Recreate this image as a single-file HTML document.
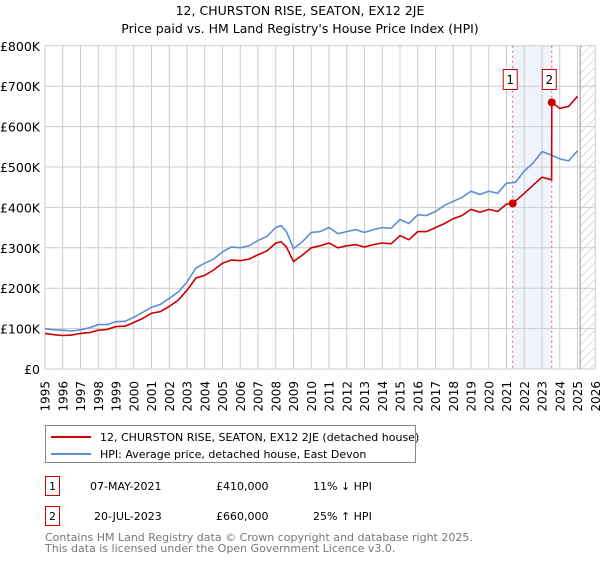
<!DOCTYPE html>
<html><head><meta charset="utf-8"><style>
body{margin:0;background:#fff;width:600px;height:560px;overflow:hidden;font-family:"Liberation Sans","DejaVu Sans",sans-serif}
svg text{font-family:"DejaVu Sans","Liberation Sans",sans-serif}
</style></head><body>
<svg id="chart" width="600" height="560" xmlns="http://www.w3.org/2000/svg">
<defs><pattern id="hatch" width="6" height="6" patternUnits="userSpaceOnUse" patternTransform="rotate(45)"><line x1="0" y1="0" x2="0" y2="6" stroke="#bbb" stroke-width="1"/></pattern></defs>
<text x="300" y="15" text-anchor="middle" font-size="12.5">12, CHURSTON RISE, SEATON, EX12 2JE</text>
<text x="300" y="33" text-anchor="middle" font-size="12.5">Price paid vs. HM Land Registry's House Price Index (HPI)</text>
<g id="grid"></g>
<g id="marks"></g>
<g id="legend">
<rect x="45.5" y="425.5" width="370" height="37" fill="#fff" stroke="#888"/>
<line x1="51" y1="437" x2="91" y2="437" stroke="#cc0000" stroke-width="2"/>
<text x="100" y="441" font-size="11">12, CHURSTON RISE, SEATON, EX12 2JE (detached house)</text>
<line x1="51" y1="454" x2="91" y2="454" stroke="#5f8fd0" stroke-width="2"/>
<text x="100" y="458" font-size="11">HPI: Average price, detached house, East Devon</text>
</g>
<g font-size="11">
<rect x="45.5" y="476.5" width="14" height="19" fill="#fff" stroke="#cc0000"/>
<text x="52.5" y="490" text-anchor="middle">1</text>
<text x="90" y="490">07-MAY-2021</text><text x="216" y="490">£410,000</text><text x="313" y="490">11% ↓ HPI</text>
</g>
<g font-size="11">
<rect x="45.5" y="506.5" width="14" height="19" fill="#fff" stroke="#cc0000"/>
<text x="52.5" y="520" text-anchor="middle">2</text>
<text x="94" y="520">20-JUL-2023</text><text x="216" y="520">£660,000</text><text x="313" y="520">25% ↑ HPI</text>
</g>
<text x="45" y="541" font-size="11" fill="#777">Contains HM Land Registry data © Crown copyright and database right 2025.</text>
<text x="45" y="552" font-size="11" fill="#777">This data is licensed under the Open Government Licence v3.0.</text>
</svg>
<script>
const hpiYears=[1995,1995.5,1996,1996.5,1997,1997.5,1998,1998.5,1999,1999.5,2000,2000.5,2001,2001.5,2002,2002.5,2003,2003.5,2004,2004.5,2005,2005.5,2006,2006.5,2007,2007.5,2008,2008.3,2008.6,2009,2009.5,2010,2010.5,2011,2011.5,2012,2012.5,2013,2013.5,2014,2014.5,2015,2015.5,2016,2016.5,2017,2017.5,2018,2018.5,2019,2019.5,2020,2020.5,2021,2021.5,2022,2022.5,2023,2023.5,2024,2024.5,2025];
const hpiValues=[100,97,96,94,97,102,110,110,117,118,128,140,153,160,175,190,215,250,262,272,290,302,300,305,318,328,350,355,340,298,315,338,340,350,335,340,345,338,345,350,348,370,360,382,380,390,405,415,425,440,432,440,435,460,462,490,510,538,530,520,515,540];
const priceYears=[1995,1995.5,1996,1996.5,1997,1997.5,1998,1998.5,1999,1999.5,2000,2000.5,2001,2001.5,2002,2002.5,2003,2003.5,2004,2004.5,2005,2005.5,2006,2006.5,2007,2007.5,2008,2008.3,2008.6,2009,2009.5,2010,2010.5,2011,2011.5,2012,2012.5,2013,2013.5,2014,2014.5,2015,2015.5,2016,2016.5,2017,2017.5,2018,2018.5,2019,2019.5,2020,2020.5,2021,2021.35,2022,2022.5,2023,2023.54,2023.55,2024,2024.5,2025];
const priceValues=[88,85,83,84,88,90,96,98,105,106,115,125,138,142,155,170,195,225,232,245,262,270,268,272,283,292,312,315,302,266,282,300,305,312,300,305,308,302,308,312,310,330,320,340,340,350,360,372,380,395,388,395,390,408,410,435,455,475,468,660,645,650,675];
const saleYears=[2021.35,2023.55];
const saleValues=[410,660];
const saleLabels=["1","2"];
const yTicks=[0,100,200,300,400,500,600,700,800];
const yTickLabels=["£0","£100K","£200K","£300K","£400K","£500K","£600K","£700K","£800K"];
const xTicks=[1995,1996,1997,1998,1999,2000,2001,2002,2003,2004,2005,2006,2007,2008,2009,2010,2011,2012,2013,2014,2015,2016,2017,2018,2019,2020,2021,2022,2023,2024,2025,2026];
const NS="http://www.w3.org/2000/svg";
const X=y=>45+(y-1995)*17.75;
const Y=v=>369-v*0.404;
function mk(tag,attrs,parent){const e=document.createElementNS(NS,tag);for(const k in attrs)e.setAttribute(k,attrs[k]);parent.appendChild(e);return e;}
const grid=document.getElementById('grid'),marks=document.getElementById('marks');
let r=mk('rect',{x:X(saleYears[0]),y:Y(800),width:X(saleYears[1])-X(saleYears[0]),height:Y(0)-Y(800),fill:'#f0f4fc'},grid);


r=mk('rect',{x:X(2025.15),y:Y(800),width:X(2026)-X(2025.15),height:Y(0)-Y(800),fill:'url(#hatch)'},grid);


yTicks.forEach((v,i)=>{
  const l=mk('line',{x1:X(1995),x2:X(2026),y1:Y(v),y2:Y(v),stroke:'#ccc'},grid);
  
  
  const t=mk('text',{x:40,y:Y(v)+5,'text-anchor':'end','font-size':'12.5'},grid);
  
  
  t.textContent=yTickLabels[i];
});
xTicks.forEach(yr=>{
  const l=mk('line',{x1:X(yr),x2:X(yr),y1:Y(800),y2:Y(0),stroke:'#ccc'},grid);
  
  
  const t=mk('text',{x:0,y:0,'text-anchor':'end','font-size':'12',transform:`translate(${X(yr)+4.5},${Y(0)+12}) rotate(-90)`},grid);
  
  
  t.textContent=yr;
});
let b=mk('line',{x1:X(2025.15),x2:X(2025.15),y1:Y(800),y2:Y(0),stroke:'#999'},grid);


saleYears.forEach((yr,i)=>{
  const l=mk('line',{x1:X(yr),x2:X(yr),y1:Y(800),y2:Y(0),stroke:'#e06666','stroke-dasharray':'2,3'},marks);
  
  
});
const line=(xs,vs,col,name)=>{
  const p=mk('path',{d:xs.map((x,i)=>(i?'L':'M')+X(x).toFixed(1)+','+Y(vs[i]).toFixed(1)).join(''),fill:'none',stroke:col,'stroke-width':1.6},marks);
  
  
};
line(hpiYears,hpiValues,'#5f8fd0','hpi-line');
line(priceYears,priceValues,'#cc0000','price-paid-line');
saleYears.forEach((yr,i)=>{
  const c=mk('circle',{cx:X(yr),cy:Y(saleValues[i]),r:4,fill:'#cc0000'},marks);
  
  
  const g=mk('g',{},marks);
  
  
  mk('rect',{x:X(yr)-9.5,y:69.5,width:14,height:20,fill:'#fff',stroke:'#cc0000'},g);
  const t=mk('text',{x:X(yr)-2.5,y:84,'text-anchor':'middle','font-size':'12'},g);
  t.textContent=saleLabels[i];
});
</script>
</body></html>
